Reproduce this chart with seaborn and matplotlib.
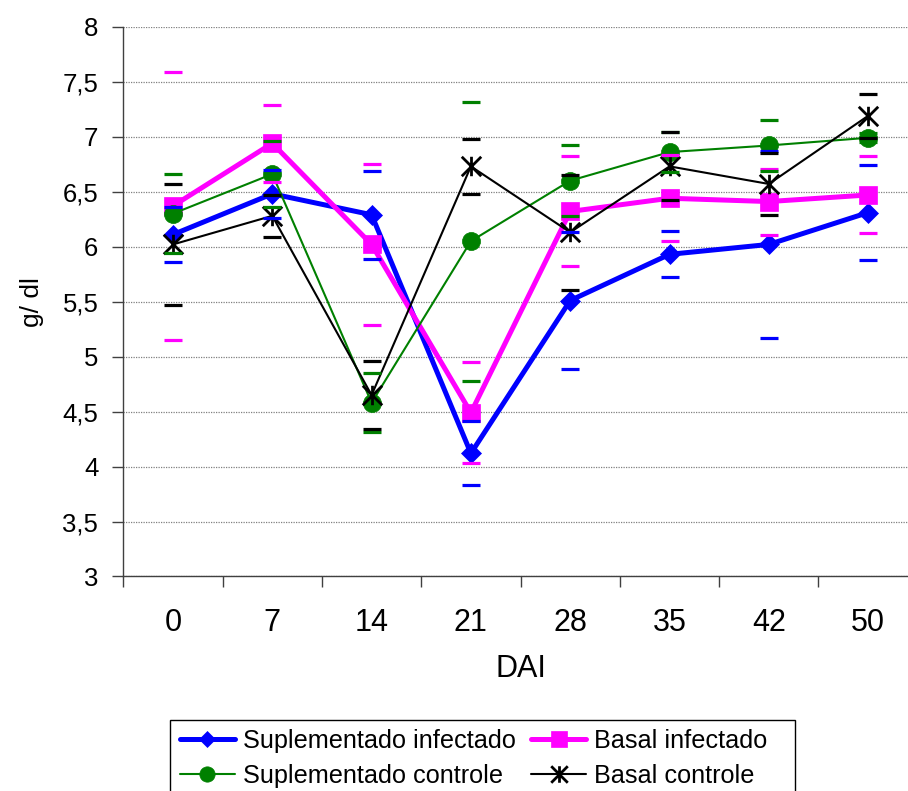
import matplotlib

matplotlib.use("Agg")

import numpy as np
import pandas as pd
import seaborn as sns
from matplotlib import pyplot as plt
from matplotlib.patches import Rectangle
from matplotlib.path import Path
from matplotlib.ticker import FixedLocator, FuncFormatter

# Days after infection (categorical axis)
dai = ["0", "7", "14", "21", "28", "35", "42", "50"]

# Means (g/dl) and error half-widths
sup_inf = [6.11, 6.48, 6.29, 4.12, 5.51, 5.93, 6.02, 6.31]
sup_inf_err = [0.25, 0.22, 0.40, 0.29, 0.62, 0.21, 0.85, 0.43]
bas_inf = [6.37, 6.94, 6.02, 4.49, 6.32, 6.44, 6.41, 6.47]
bas_inf_err = [1.22, 0.35, 0.73, 0.46, 0.50, 0.39, 0.30, 0.35]
sup_con = [6.30, 6.66, 4.58, 6.05, 6.60, 6.86, 6.92, 6.99]
sup_con_err = [0.36, 0.30, 0.27, 1.27, 0.32, 0.18, 0.23, 0.04]
bas_con = [6.02, 6.28, 4.65, 6.73, 6.13, 6.73, 6.57, 7.19]
bas_con_err = [0.55, 0.19, 0.31, 0.25, 0.52, 0.31, 0.28, 0.20]

names = [
    "Suplementado infectado",
    "Basal infectado",
    "Suplementado controle",
    "Basal controle",
]

sns.set_style("white")
plt.rcParams["font.family"] = ["Liberation Sans", "DejaVu Sans"]
plt.rcParams["text.color"] = "black"
plt.rcParams["axes.labelcolor"] = "black"
plt.rcParams["xtick.color"] = "black"
plt.rcParams["ytick.color"] = "black"

# Excel-like star: X plus a vertical bar
star = Path(
    [(-1, -1), (1, 1), (-1, 1), (1, -1), (0, -1), (0, 1)],
    [Path.MOVETO, Path.LINETO, Path.MOVETO, Path.LINETO, Path.MOVETO, Path.LINETO],
)

styles = {
    "Suplementado infectado": dict(color="#0000FF", marker="D", markersize=10, linewidth=3.6),
    "Basal infectado": dict(color="#FF00FF", marker="s", markersize=13, linewidth=3.6),
    "Suplementado controle": dict(color="#008000", marker="o", markersize=13, linewidth=1.5),
    "Basal controle": dict(color="#000000", marker=star, markersize=14, linewidth=1.5),
}

pos = np.arange(len(dai))
df = pd.concat(
    [
        pd.DataFrame({"pos": pos, "grupo": n, "valor": v, "erro": e})
        for n, v, e in zip(
            names,
            [sup_inf, bas_inf, sup_con, bas_con],
            [sup_inf_err, bas_inf_err, sup_con_err, bas_con_err],
        )
    ]
)

fig = plt.figure(figsize=(9.08, 7.91), dpi=100)
ax = fig.add_axes([0.1358, 0.2712, 0.875, 0.695])

handles = {}
for n in names:
    sub = df[df["grupo"] == n]
    st = styles[n]
    sns.lineplot(
        data=sub,
        x="pos",
        y="valor",
        color=st["color"],
        marker=st["marker"],
        markersize=st["markersize"],
        linewidth=st["linewidth"],
        markeredgecolor=st["color"],
        markeredgewidth=2 if n == "Basal controle" else 0.5,
        sort=False,
        label=n,
        ax=ax,
        zorder=3,
    )
    handles[n] = ax.lines[-1]

# error bars are only the caps in the original
for n in names:
    sub = df[df["grupo"] == n]
    ax.errorbar(
        sub["pos"],
        sub["valor"],
        yerr=sub["erro"],
        fmt="none",
        ecolor=styles[n]["color"],
        elinewidth=0,
        capsize=6.8,
        capthick=2.3,
        zorder=4,
    )

ax.set_ylim(3, 8)
ax.set_xlim(-0.5, len(dai) - 0.5)
ax.yaxis.set_major_locator(FixedLocator(np.arange(3, 8.01, 0.5)))
ax.yaxis.set_major_formatter(
    FuncFormatter(lambda v, p: f"{v:g}".replace(".", ","))
)
ax.xaxis.set_major_locator(FixedLocator(np.arange(-0.5, len(dai), 1)))
ax.xaxis.set_minor_locator(FixedLocator(pos))
ax.set_xticklabels([])
ax.set_xticklabels(dai, minor=True)
ax.tick_params(axis="x", which="major", length=8, width=1, color="#404040", direction="out", bottom=True)
ax.tick_params(axis="x", which="minor", length=0, pad=23, labelsize=22)
ax.tick_params(axis="y", length=8, width=1, color="#404040", direction="out", left=True, pad=10, labelsize=18.5)

ax.grid(axis="y", color="#808080", linestyle=(0, (1, 1)), linewidth=0.9)
ax.grid(axis="x", visible=False)
sns.despine(ax=ax)
for s in ["left", "bottom"]:
    ax.spines[s].set_color("#404040")
    ax.spines[s].set_linewidth(1)

ax.set_xlabel("DAI", fontsize=22, labelpad=11)
ax.set_ylabel("g/ dl", fontsize=19, labelpad=13)

order = ["Suplementado infectado", "Suplementado controle", "Basal infectado", "Basal controle"]
leg = ax.legend(
    [handles[n] for n in order],
    order,
    ncol=2,
    loc="upper left",
    bbox_to_anchor=(172 / 908, 1 - 721 / 791),
    bbox_transform=fig.transFigure,
    borderaxespad=0,
    frameon=False,
    fontsize=18.2,
    handlelength=2.2,
    handletextpad=0.3,
    columnspacing=0.6,
    labelspacing=0.45,
    borderpad=0.3,
    markerscale=0.85,
)

# the original legend box is wider than its entries and runs off the bottom
fig.patches.append(
    Rectangle(
        (170 / 908, -0.02),
        625 / 908,
        (791 - 720) / 791 + 0.02,
        transform=fig.transFigure,
        fill=False,
        edgecolor="black",
        linewidth=1,
    )
)

fig.savefig("out.png", dpi=100, facecolor="white")
